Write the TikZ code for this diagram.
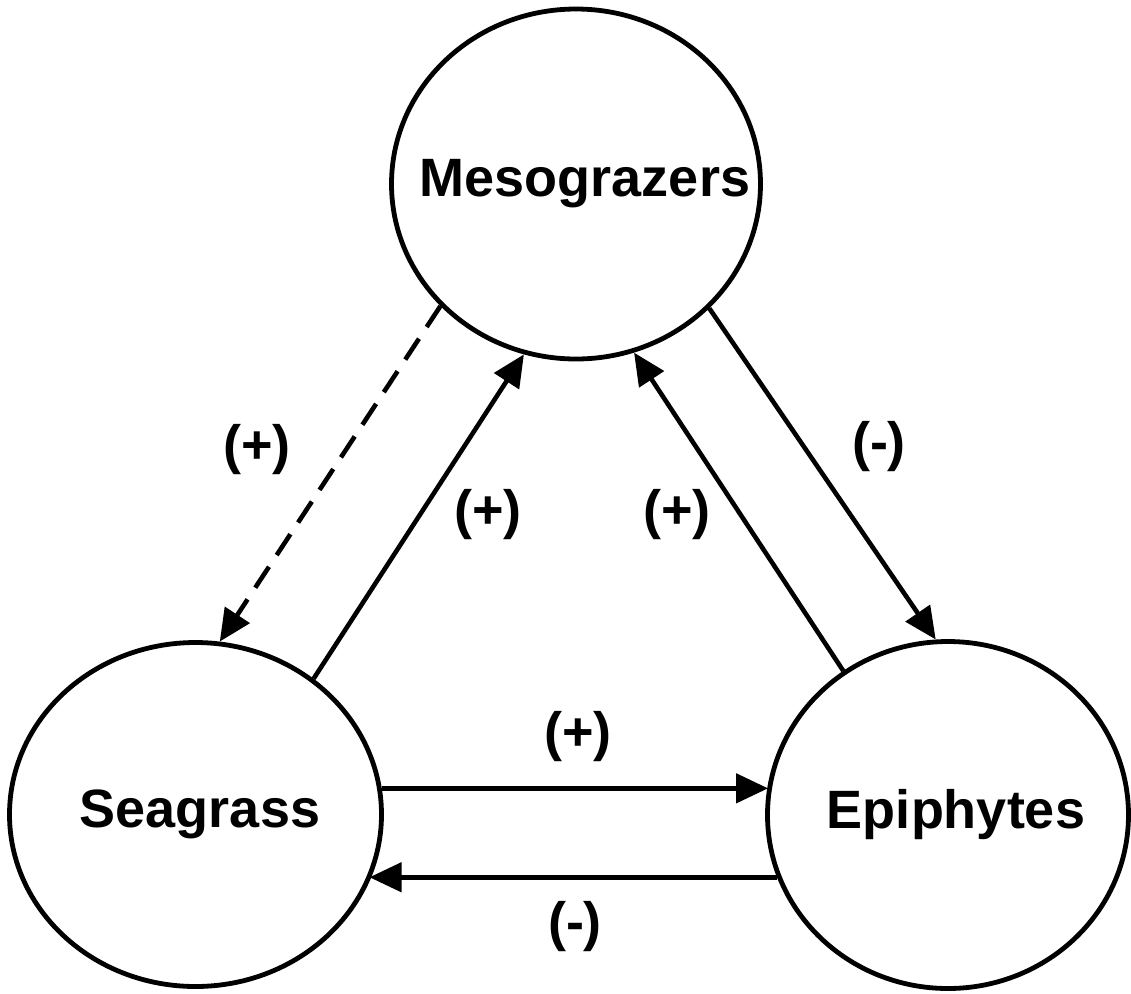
\documentclass[tikz,border=0pt]{standalone}
\usepackage{fontspec}
\setmainfont{Liberation Sans}
\usetikzlibrary{shapes.geometric,arrows.meta}
\newcommand\poptext[2]{\makebox[0pt]{\hspace*{#1}#2}}
\begin{document}
\begin{tikzpicture}[x=0.5pt,y=-0.5pt,
  pop/.style={ellipse,draw,line width=2.4pt,inner sep=0pt,fill=white,
    font=\fontsize{27}{30}\selectfont\bfseries},
  link/.style={line width=2.3pt,-{Triangle[length=16pt,width=14.5pt]}},
  sign/.style={font=\fontsize{27}{30}\selectfont\bfseries}]
\useasboundingbox (0,0) rectangle (1131,993);
\node[pop,minimum width=184.5pt,minimum height=175pt] (meso) at (576,184) {\poptext{9pt}{Mesograzers}};
\node[pop,minimum width=186pt,minimum height=172pt] (sea) at (195.5,814.5) {\poptext{4.5pt}{Seagrass}};
\node[pop,minimum width=180.5pt,minimum height=173.5pt] (epi) at (948,815) {\poptext{8pt}{Epiphytes}};

\draw[link,dash pattern=on 12.5pt off 7pt] (meso.222.8) -- (sea.82.2);
\draw[link] (sea.49) -- (meso.253);
\draw[link] (epi.126.6) -- (meso.289);
\draw[link] (meso.317.4) -- (epi.94.9);
\draw[link] (sea.8.9) -- (sea.8.9 -| epi.170.9);
\draw[link] (epi.200.9) -- (epi.200.9 -| sea.339.6);

\node[sign] (l1) at (257,450) {(+)};
\node[sign] (l2) at (488,515) {(+)};
\node[sign] (l3) at (677,515) {(+)};
\node[sign] (l4) at (879,447) {(-)};
\node[sign] (l5) at (578,737) {(+)};
\node[sign] (l6) at (575,927) {(-)};
\end{tikzpicture}
\end{document}
